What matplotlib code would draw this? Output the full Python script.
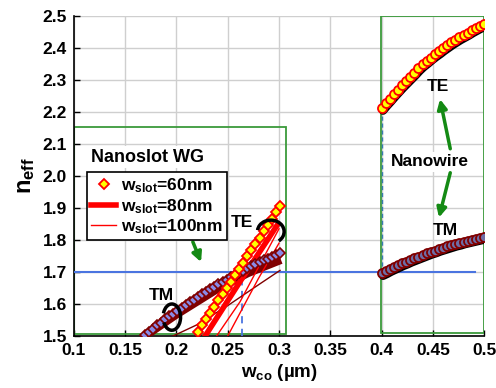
import numpy as np
import matplotlib
matplotlib.use("Agg")
import matplotlib.pyplot as plt
from matplotlib.patches import Arc, Rectangle

plt.rcParams["font.family"] = ["Liberation Sans", "DejaVu Sans"]
plt.rcParams["font.weight"] = "bold"
plt.rcParams["axes.labelweight"] = "bold"
plt.rcParams["mathtext.fontset"] = "custom"
plt.rcParams["mathtext.rm"] = "Liberation Sans:bold"
plt.rcParams["mathtext.bf"] = "Liberation Sans:bold"
plt.rcParams["mathtext.it"] = "Liberation Sans:bold"

# --- nanoslot WG, w_slot = 60 nm (diamonds)
slot60_te_x = [0.221, 0.225, 0.229, 0.233, 0.237, 0.241, 0.245, 0.249, 0.253, 0.257, 0.261,
               0.265, 0.269, 0.273, 0.277, 0.281, 0.285, 0.289, 0.293, 0.297, 0.301]
slot60_te_n = [1.514, 1.533, 1.553, 1.573, 1.592, 1.612, 1.631, 1.651, 1.670, 1.690, 1.709,
               1.729, 1.749, 1.768, 1.788, 1.807, 1.827, 1.846, 1.866, 1.886, 1.905]
slot60_tm_x = [0.169, 0.173, 0.177, 0.181, 0.185, 0.189, 0.193, 0.197, 0.201, 0.205, 0.209,
               0.213, 0.217, 0.221, 0.225, 0.229, 0.233, 0.237, 0.241, 0.245, 0.249, 0.253,
               0.257, 0.261, 0.265, 0.269, 0.273, 0.277, 0.281, 0.285, 0.289, 0.293, 0.297, 0.301]
slot60_tm_n = [1.503, 1.513, 1.523, 1.533, 1.542, 1.552, 1.561, 1.570, 1.579, 1.588, 1.597,
               1.605, 1.614, 1.622, 1.630, 1.638, 1.646, 1.654, 1.662, 1.669, 1.676, 1.684,
               1.691, 1.698, 1.704, 1.711, 1.718, 1.724, 1.730, 1.736, 1.742, 1.748, 1.754, 1.759]

# --- w_slot = 80 nm (thick lines)
slot80_te_x = [0.226, 0.262, 0.299]
slot80_te_n = [1.490, 1.670, 1.850]
slot80_tm_x = [0.166, 0.200, 0.240, 0.270, 0.299]
slot80_tm_n = [1.490, 1.565, 1.645, 1.695, 1.732]

# --- w_slot = 100 nm (thin lines)
slot100_te_x = [0.237, 0.262, 0.300]
slot100_te_n = [1.490, 1.607, 1.835]
slot100_te2_x = [0.250, 0.280, 0.300]
slot100_te2_n = [1.500, 1.680, 1.790]
slot100_tm_x = [0.190, 0.220, 0.250, 0.280, 0.301]
slot100_tm_n = [1.490, 1.535, 1.595, 1.660, 1.705]

# --- nanowire
wire_x = [0.400, 0.404, 0.408, 0.412, 0.416, 0.420, 0.424, 0.428, 0.432, 0.436, 0.440, 0.444, 0.448,
          0.452, 0.456, 0.460, 0.464, 0.468, 0.472, 0.476, 0.480, 0.484, 0.488, 0.492, 0.496, 0.500]
wire_te_n = [2.212, 2.227, 2.241, 2.256, 2.270, 2.284, 2.297, 2.310, 2.323, 2.337, 2.349, 2.359, 2.370,
             2.380, 2.389, 2.399, 2.408, 2.417, 2.425, 2.433, 2.440, 2.447, 2.455, 2.462, 2.469, 2.476]
wire_tm_n = [1.696, 1.702, 1.709, 1.715, 1.721, 1.727, 1.732, 1.738, 1.743, 1.748, 1.753, 1.758, 1.763,
             1.767, 1.772, 1.776, 1.780, 1.784, 1.788, 1.791, 1.795, 1.798, 1.801, 1.804, 1.807, 1.810]

n_cut = 1.7
w_cut = 0.2636

x_ticks = [0.1, 0.15, 0.2, 0.25, 0.3, 0.35, 0.4, 0.45, 0.5]
x_ticklabels = ["0.1", "0.15", "0.2", "0.25", "0.3", "0.35", "0.4", "0.45", "0.5"]
y_ticks = [1.5, 1.6, 1.7, 1.8, 1.9, 2.0, 2.1, 2.2, 2.3, 2.4, 2.5]

RED = "#FF0000"
DRED = "#800000"
YEL = "#FFFF00"
BLUEV = "#8A8AE6"
GREYV = "#6E6EA6"
GREEN = "#3A9A3A"
ARROWG = "#148A14"
BLINE = "#4A74E0"

fig = plt.figure(figsize=(4.96, 3.88), dpi=100)
ax = fig.add_axes([0.149, 0.134, 0.827, 0.825])
ax.set_xlim(0.1, 0.5)
ax.set_ylim(1.5, 2.5)
ax.set_xticks(x_ticks)
ax.set_xticklabels(x_ticklabels)
ax.set_yticks(y_ticks)
ax.set_yticklabels([f"{v:.1f}" for v in y_ticks])
ax.tick_params(direction="in", length=4, width=1, labelsize=12.5, pad=5)
ax.grid(True, color="#CFCFCF", lw=1)
ax.set_axisbelow(True)
for s in ["top", "right"]:
    ax.spines[s].set_visible(False)
for s in ["left", "bottom"]:
    ax.spines[s].set_linewidth(1.2)

# green boxes
ax.add_patch(Rectangle((0.1005, 1.506), 0.2065, 0.647, fill=False, ec=GREEN, lw=1.3, zorder=2))
ax.add_patch(Rectangle((0.3995, 1.51), 0.1, 0.989, fill=False, ec=GREEN, lw=1.3, zorder=2))

# reference lines
ax.plot([0.1, 0.491], [n_cut, n_cut], color=BLINE, lw=1.5, zorder=3)
ax.plot([w_cut, w_cut], [1.5, n_cut], color=BLINE, lw=1.3, ls=(0, (4, 3)), zorder=3)
ax.plot([0.4, 0.4], [wire_tm_n[0], wire_te_n[0]], color="#3A7AB0", lw=1, ls=(0, (3, 2)), zorder=3)

# nanoslot lines
ax.plot(slot80_tm_x, slot80_tm_n, color=DRED, lw=5, zorder=4)
ax.plot(slot100_tm_x, slot100_tm_n, color=DRED, lw=1, zorder=4)
ax.plot(slot80_te_x, slot80_te_n, color=RED, lw=4, zorder=4)
ax.plot(slot100_te_x, slot100_te_n, color=RED, lw=1, zorder=4)
ax.plot(slot100_te2_x, slot100_te2_n, color=RED, lw=1, zorder=4)
ax.plot(slot60_tm_x, slot60_tm_n, ls="none", marker="D", ms=5, mfc=BLUEV, mec=DRED, mew=1.2, zorder=5)
ax.plot(slot60_te_x, slot60_te_n, ls="none", marker="D", ms=5, mfc=YEL, mec=RED, mew=1.3, zorder=5)

# nanowire: black shadow + markers
wx = np.array(wire_x)
ax.plot(wx + 0.0015, np.array(wire_te_n) - 0.008, color="black", lw=6, solid_capstyle="round", zorder=4)
ax.plot(wx + 0.0015, np.array(wire_tm_n) - 0.008, color="black", lw=6, solid_capstyle="round", zorder=4)
ax.plot(wire_x, wire_te_n, ls="none", marker="o", ms=6.5, mfc=YEL, mec=RED, mew=1.3, zorder=5)
ax.plot(wire_x, wire_tm_n, ls="none", marker="o", ms=6.5, mfc=GREYV, mec=DRED, mew=1.3, zorder=5)

# arcs around mode groups
ax.add_patch(Arc((0.292, 1.826), 0.026, 0.072, theta1=-75, theta2=160,
                 color="black", lw=2.5, zorder=6))
ax.add_patch(Arc((0.1955, 1.559), 0.017, 0.082, theta1=-115, theta2=125,
                 color="black", lw=2.5, zorder=6))

# texts
ax.text(0.264, 1.856, "TE", ha="center", va="center", fontsize=12.5, zorder=7)
ax.text(0.185, 1.628, "TM", ha="center", va="center", fontsize=12.5, zorder=7)
ax.text(0.455, 2.278, "TE", ha="center", va="center", fontsize=12.5, zorder=7)
ax.text(0.462, 1.831, "TM", ha="center", va="center", fontsize=12.5, zorder=7)
ax.text(0.447, 2.044, "Nanowire", ha="center", va="center", fontsize=12.5, zorder=7,
        bbox=dict(fc="white", ec="none", pad=2))
ax.text(0.172, 2.059, "Nanoslot WG", ha="center", va="center", fontsize=13, zorder=7,
        bbox=dict(fc="white", ec="none", pad=2))

arrow = dict(arrowstyle="-|>", color=ARROWG, lw=2.5, mutation_scale=14, shrinkA=0, shrinkB=0)
ax.annotate("", xy=(0.224, 1.731), xytext=(0.216, 1.794), arrowprops=arrow, zorder=7)
ax.annotate("", xy=(0.457, 2.240), xytext=(0.467, 2.085), arrowprops=arrow, zorder=7)
ax.annotate("", xy=(0.456, 1.870), xytext=(0.467, 2.010), arrowprops=arrow, zorder=7)

# legend
h60, = ax.plot([], [], ls="none", marker="D", ms=5, mfc=YEL, mec=RED, mew=1.3)
h80, = ax.plot([], [], color=RED, lw=4)
h100, = ax.plot([], [], color=RED, lw=1)
leg = ax.legend([h60, h80, h100],
                [r"w$_{\rm slot}$=60nm", r"w$_{\rm slot}$=80nm", r"w$_{\rm slot}$=100nm"],
                loc="upper left", bbox_to_anchor=(0.032, 0.512), fontsize=12.5,
                frameon=True, fancybox=False, framealpha=1, edgecolor="black",
                handlelength=1.4, handletextpad=0.3, labelspacing=0.1, borderpad=0.25,
                borderaxespad=0)
leg.get_frame().set_linewidth(1.2)
leg.set_zorder(8)

ax.set_xlabel(r"w$_{\rm co}$ (µm)", fontsize=13.5, labelpad=3)
ax.set_ylabel(r"n$_{\rm eff}$", fontsize=17, labelpad=4)

fig.savefig("out.png", dpi=100)
